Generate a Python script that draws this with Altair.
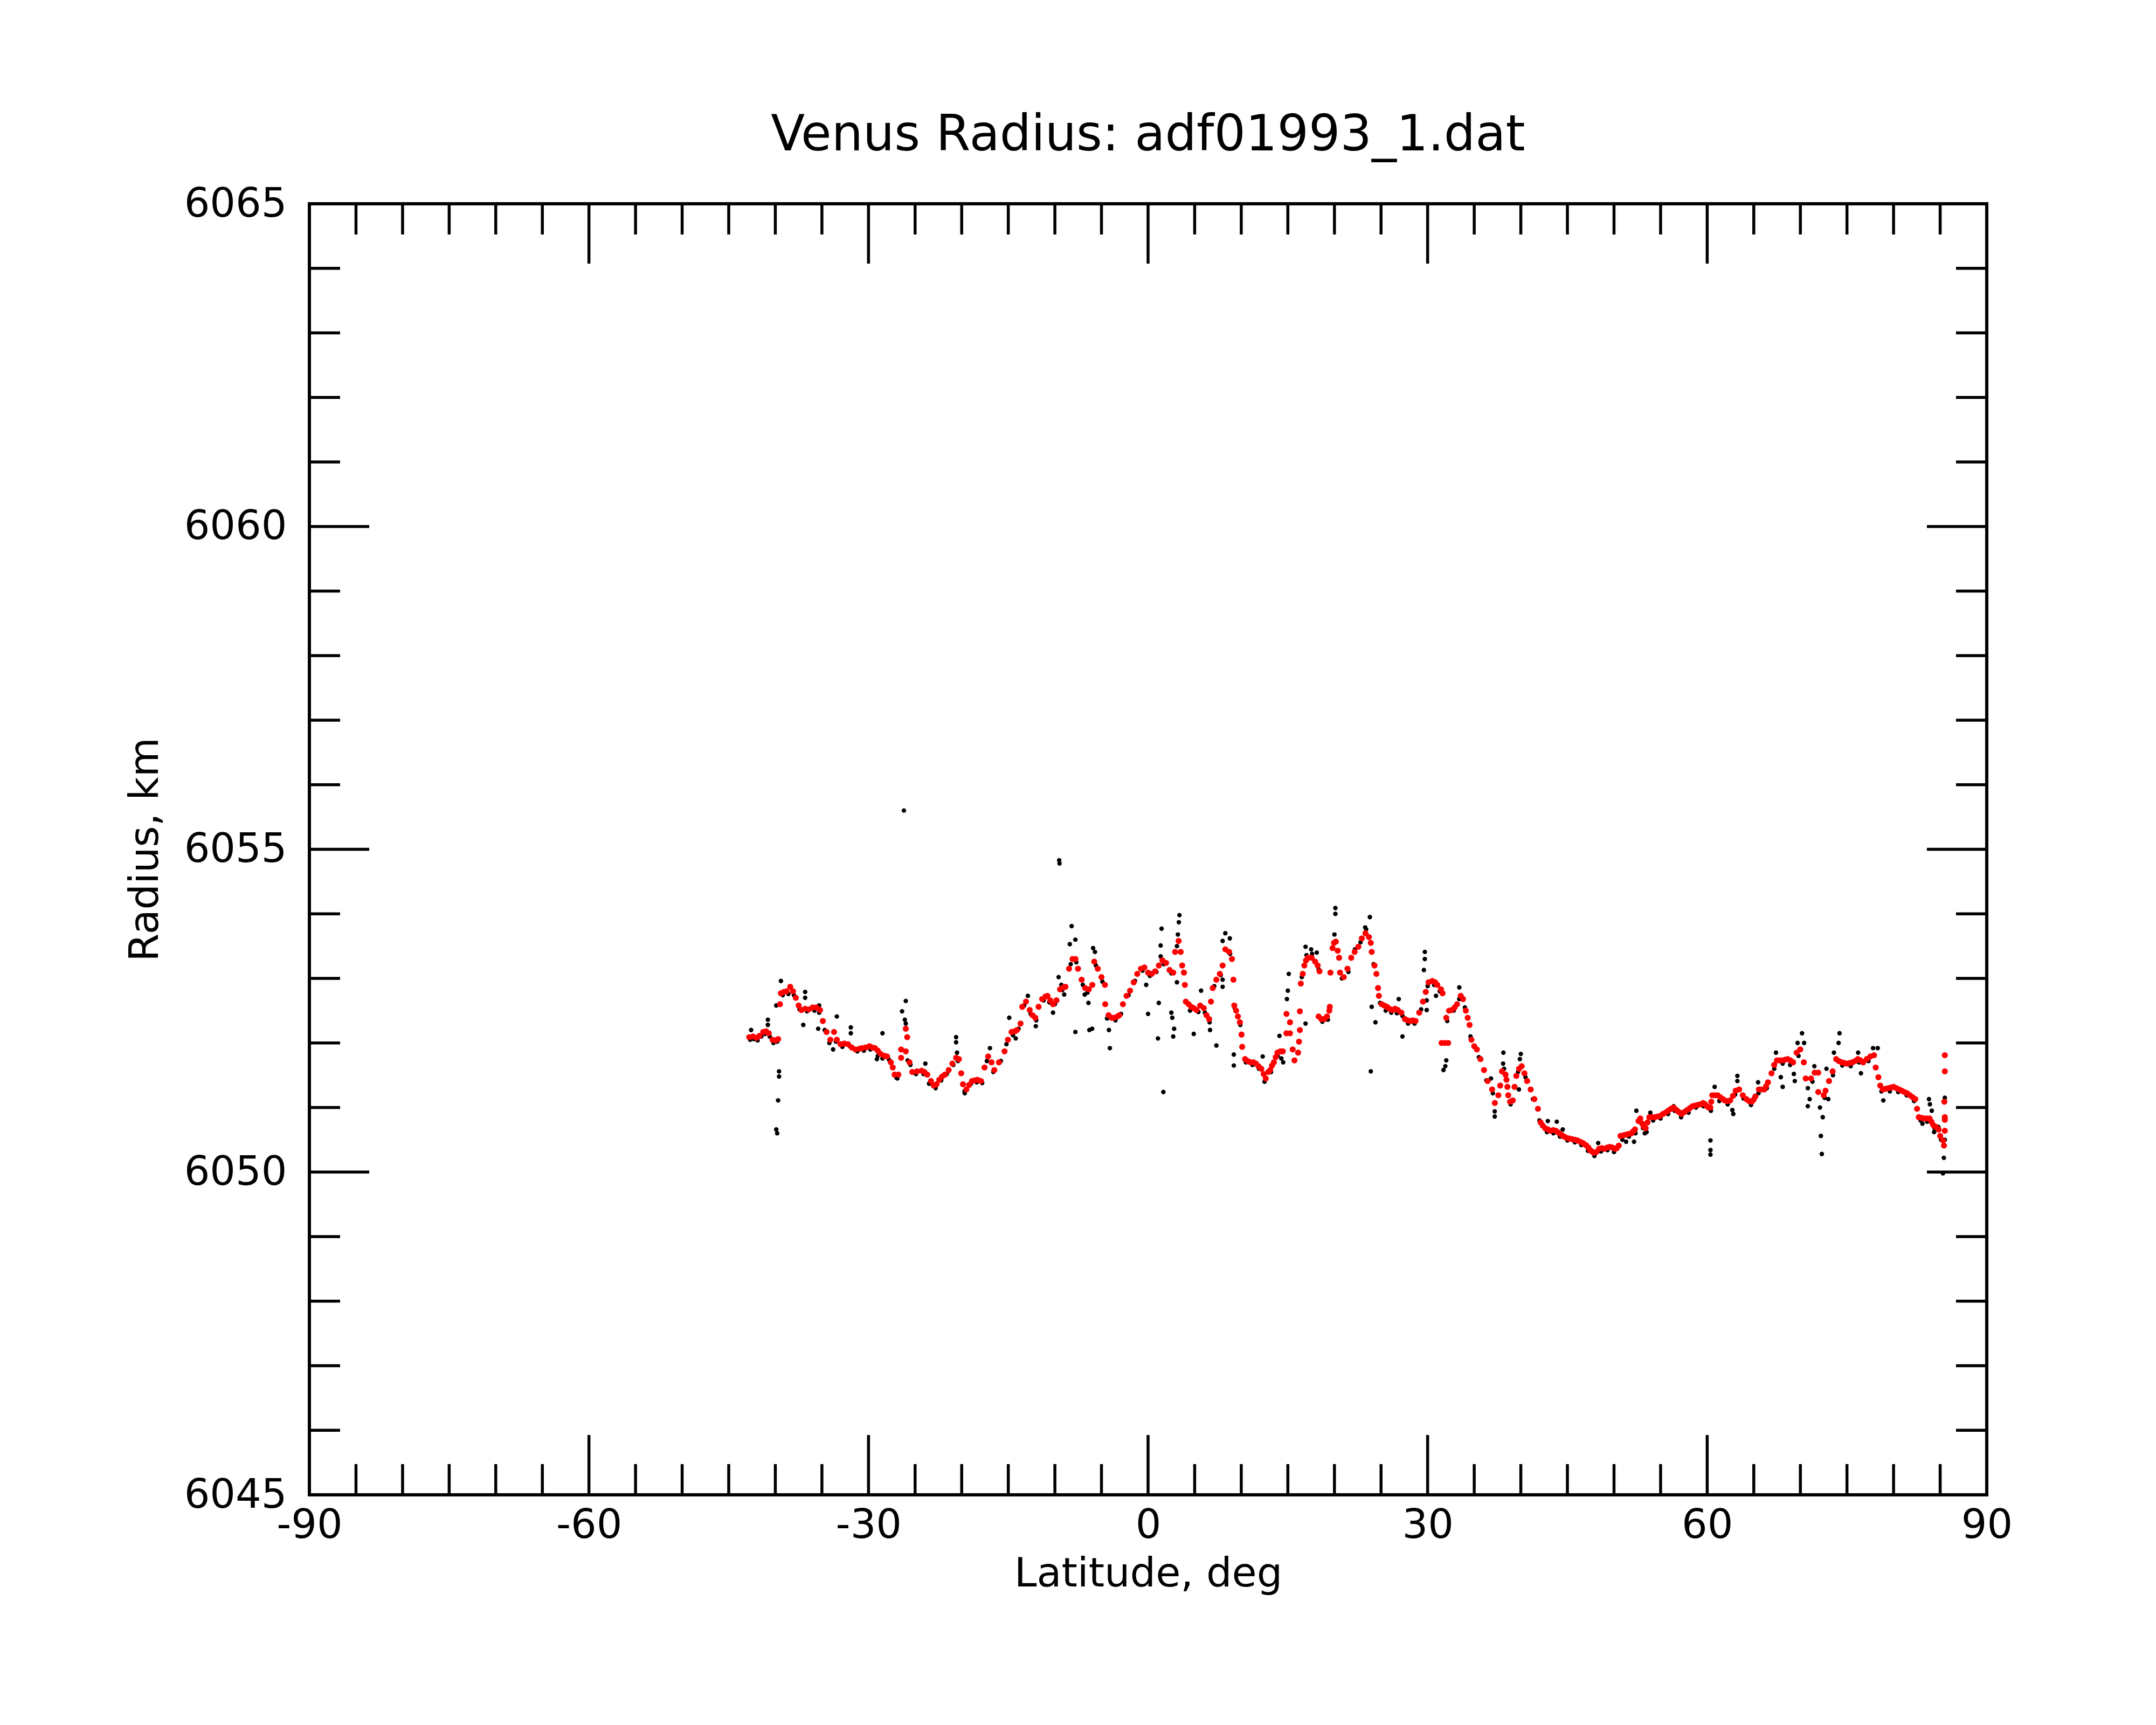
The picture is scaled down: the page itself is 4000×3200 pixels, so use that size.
import altair as alt
import pandas as pd

TITLE = "Venus Radius: adf01993_1.dat"
X_TITLE = "Latitude, deg"
Y_TITLE = "Radius, km"

x_labels = [-90, -60, -30, 0, 30, 60, 90]
y_labels = [6045, 6050, 6055, 6060, 6065]
x_minor = [-85, -80, -75, -70, -65, -55, -50, -45, -40, -35, -25, -20, -15, -10, -5,
           5, 10, 15, 20, 25, 35, 40, 45, 50, 55, 65, 70, 75, 80, 85]
x_major = [-60, -30, 0, 30, 60]
y_minor = [6046, 6047, 6048, 6049, 6051, 6052, 6053, 6054, 6056, 6057, 6058, 6059,
           6061, 6062, 6063, 6064]
y_major = [6050, 6055, 6060]

# ---- smoothed (red) profile: (latitude, radius)
red_south = [
    (-42.8, 6052.09), (-42.4, 6052.10), (-42.0, 6052.08), (-41.7, 6052.11), (-41.3, 6052.17),
    (-41.0, 6052.18), (-40.7, 6052.15), (-40.3, 6052.05), (-40.0, 6052.04), (-39.7, 6052.06),
    (-39.5, 6052.60), (-39.4, 6052.77), (-39.1, 6052.79), (-38.8, 6052.80), (-38.4, 6052.87),
    (-38.1, 6052.80), (-37.8, 6052.70), (-37.5, 6052.58), (-37.2, 6052.51), (-36.8, 6052.53),
    (-36.4, 6052.52), (-36.0, 6052.55), (-35.6, 6052.55), (-35.2, 6052.51), (-34.9, 6052.34),
    (-34.5, 6052.17), (-34.1, 6052.05), (-33.7, 6052.17), (-33.4, 6052.05), (-33.0, 6051.98),
    (-32.6, 6051.99), (-32.2, 6051.98), (-31.8, 6051.93), (-31.4, 6051.90), (-31.0, 6051.91),
    (-30.7, 6051.92), (-30.3, 6051.93), (-29.9, 6051.95), (-29.6, 6051.93), (-29.3, 6051.92),
    (-29.0, 6051.88), (-28.7, 6051.83), (-28.3, 6051.80), (-28.0, 6051.79), (-27.6, 6051.70),
    (-27.4, 6051.62), (-27.2, 6051.51), (-26.8, 6051.51), (-26.5, 6051.77), (-26.5, 6051.90),
    (-26.0, 6051.87), (-25.85, 6052.09), (-26.0, 6052.22), (-25.6, 6051.70), (-25.3, 6051.55),
    (-24.8, 6051.56), (-24.3, 6051.57), (-24.0, 6051.55), (-23.7, 6051.51), (-23.3, 6051.41),
    (-23.0, 6051.34), (-22.7, 6051.36), (-22.4, 6051.43), (-22.1, 6051.48), (-21.8, 6051.51),
    (-21.4, 6051.58), (-21.0, 6051.68), (-20.6, 6051.77), (-20.3, 6051.75), (-20.05, 6051.53),
    (-19.86, 6051.36), (-19.5, 6051.28), (-19.2, 6051.35), (-18.9, 6051.41), (-18.6, 6051.42),
    (-18.3, 6051.43),
]
red_equator = [
    (-17.93, 6051.41), (-17.55, 6051.62), (-17.16, 6051.79), (-16.8, 6051.70), (-16.5, 6051.58),
    (-16.0, 6051.70), (-15.4, 6051.87), (-15.04, 6052.05), (-14.65, 6052.17), (-14.3, 6052.18),
    (-14.07, 6052.20), (-13.69, 6052.30), (-13.5, 6052.56), (-13.1, 6052.64), (-12.7, 6052.51),
    (-12.4, 6052.43), (-12.1, 6052.39), (-11.75, 6052.56), (-11.37, 6052.68), (-11.0, 6052.72),
    (-10.8, 6052.73), (-10.5, 6052.66), (-10.2, 6052.60), (-9.83, 6052.66), (-9.45, 6052.83),
    (-9.1, 6052.86), (-8.87, 6052.87), (-8.48, 6053.15), (-8.1, 6053.30), (-7.8, 6053.30),
    (-7.52, 6053.15), (-7.13, 6052.98), (-6.75, 6052.85), (-6.36, 6052.83), (-5.98, 6052.90),
    (-5.78, 6053.26), (-5.4, 6053.15), (-5.0, 6053.02), (-4.63, 6052.90), (-4.6, 6052.60),
    (-4.24, 6052.43), (-3.9, 6052.39), (-3.66, 6052.39), (-3.3, 6052.41), (-3.08, 6052.43),
    (-2.7, 6052.60), (-2.31, 6052.73), (-1.93, 6052.81), (-1.54, 6052.94), (-1.16, 6053.07),
    (-0.77, 6053.15), (-0.39, 6053.17), (0.0, 6053.09), (0.39, 6053.07), (0.77, 6053.11),
    (1.16, 6053.20), (1.54, 6053.28), (1.93, 6053.24), (2.31, 6053.13), (2.7, 6053.09),
    (2.9, 6053.41), (3.28, 6053.58), (3.5, 6053.41), (3.66, 6053.20), (3.85, 6053.09),
    (3.95, 6052.90), (4.05, 6052.64), (4.35, 6052.60), (4.63, 6052.56), (4.9, 6052.54),
    (5.2, 6052.51), (5.59, 6052.58), (5.98, 6052.54), (6.27, 6052.43), (6.55, 6052.37),
    (6.75, 6052.64), (6.94, 6052.85), (7.33, 6052.98), (7.7, 6053.07), (8.0, 6053.20),
    (8.29, 6053.45),
]
red_north = [
    (8.7, 6053.41), (9.0, 6053.30), (9.16, 6052.98), (9.25, 6052.58), (9.45, 6052.50),
    (9.64, 6052.41), (9.85, 6052.32), (10.03, 6052.13), (10.1, 6051.94), (10.41, 6051.75),
    (10.7, 6051.72), (11.0, 6051.70), (11.3, 6051.70), (11.57, 6051.68), (11.85, 6051.64),
    (12.15, 6051.60), (12.4, 6051.52), (12.63, 6051.45), (12.9, 6051.55), (13.11, 6051.58),
    (13.3, 6051.65), (13.5, 6051.70), (13.7, 6051.78), (13.88, 6051.85), (14.2, 6051.87),
    (14.46, 6051.87), (14.85, 6052.45), (15.23, 6052.32), (14.85, 6052.15), (15.23, 6052.15),
    (15.52, 6051.90), (15.71, 6051.73), (16.1, 6051.85), (16.2, 6052.02), (16.29, 6052.20),
    (16.29, 6052.49), (16.39, 6052.92), (16.6, 6053.07), (16.77, 6053.20), (16.95, 6053.28),
    (17.16, 6053.32), (17.55, 6053.32), (17.93, 6053.26), (18.2, 6053.20), (18.4, 6053.11),
    (18.3, 6052.41), (18.6, 6052.37), (18.9, 6052.37), (19.2, 6052.41), (19.45, 6052.50),
    (19.5, 6052.56), (19.57, 6053.09), (19.8, 6053.47), (19.95, 6053.55), (20.15, 6053.57),
    (20.35, 6053.43), (20.5, 6053.32), (20.6, 6053.09), (21.0, 6053.02), (21.4, 6053.15),
    (21.8, 6053.32), (22.17, 6053.41), (22.56, 6053.49), (22.94, 6053.62), (23.33, 6053.70),
    (23.7, 6053.64), (23.9, 6053.55), (24.0, 6053.41), (24.3, 6053.20), (24.5, 6053.07),
    (24.68, 6052.85), (24.77, 6052.73), (25.06, 6052.60), (25.35, 6052.58), (25.64, 6052.56),
    (25.9, 6052.53), (26.2, 6052.51), (26.5, 6052.53), (26.8, 6052.51), (27.18, 6052.47),
    (27.57, 6052.37), (27.85, 6052.35), (28.15, 6052.34), (28.4, 6052.35), (28.7, 6052.34),
    (29.1, 6052.47), (29.5, 6052.64), (29.8, 6052.79), (30.1, 6052.94), (30.5, 6052.96),
    (30.8, 6052.94), (31.04, 6052.90), (31.43, 6052.83), (31.6, 6052.77), (31.5, 6052.00),
    (31.85, 6052.00), (32.2, 6052.00), (32.0, 6052.39), (32.3, 6052.50), (32.6, 6052.51),
    (32.9, 6052.55), (33.16, 6052.60), (33.55, 6052.73), (33.8, 6052.68), (34.1, 6052.50),
    (34.3, 6052.39), (34.5, 6052.28), (34.7, 6052.05), (35.0, 6051.95), (35.28, 6051.90),
]
red_polar = [
    (35.67, 6051.75), (36.05, 6051.58), (36.44, 6051.41), (36.92, 6051.28), (37.21, 6051.07),
    (37.59, 6051.19), (37.79, 6051.34), (37.98, 6051.56), (38.36, 6051.51), (38.46, 6051.43),
    (38.56, 6051.32), (38.65, 6051.19), (38.85, 6051.09), (39.14, 6051.11), (39.33, 6051.32),
    (39.52, 6051.49), (39.81, 6051.60), (40.1, 6051.64), (40.39, 6051.53), (40.68, 6051.41),
    (41.06, 6051.28), (41.45, 6051.13), (41.84, 6050.98), (42.12, 6050.77), (42.35, 6050.72),
    (42.61, 6050.68), (42.9, 6050.66), (43.18, 6050.64), (43.47, 6050.65), (43.76, 6050.64),
    (44.05, 6050.61), (44.34, 6050.58), (44.63, 6050.55), (44.92, 6050.53), (45.2, 6050.52),
    (45.5, 6050.51), (45.8, 6050.50), (46.08, 6050.49), (46.37, 6050.47), (46.66, 6050.45),
    (46.85, 6050.43), (47.04, 6050.41), (47.25, 6050.38), (47.43, 6050.34), (47.62, 6050.32),
    (47.81, 6050.30), (48.1, 6050.31), (48.39, 6050.36), (48.68, 6050.37), (48.97, 6050.36),
    (49.26, 6050.38), (49.55, 6050.39), (49.84, 6050.38), (50.13, 6050.36), (50.3, 6050.37),
    (50.51, 6050.41), (50.7, 6050.56), (51.0, 6050.57), (51.28, 6050.58), (51.57, 6050.59),
    (51.86, 6050.60), (52.05, 6050.63), (52.25, 6050.66), (52.63, 6050.79), (52.82, 6050.83),
    (53.02, 6050.75), (53.2, 6050.70), (53.4, 6050.68), (53.6, 6050.77), (53.79, 6050.85),
    (54.08, 6050.85), (54.37, 6050.85), (54.66, 6050.86), (54.95, 6050.87), (55.24, 6050.90),
    (55.52, 6050.92), (55.81, 6050.95), (56.1, 6050.98), (56.39, 6051.00), (56.63, 6050.97),
    (56.87, 6050.94), (57.05, 6050.92), (57.26, 6050.90), (57.55, 6050.93), (57.84, 6050.96),
    (58.13, 6050.99), (58.42, 6051.02), (58.71, 6051.03), (59.0, 6051.04), (59.28, 6051.05),
    (59.57, 6051.07), (59.77, 6051.05), (59.96, 6051.02), (60.15, 6051.00), (60.34, 6051.00),
    (60.44, 6051.09), (60.54, 6051.19), (60.83, 6051.19), (61.12, 6051.19), (61.4, 6051.16),
    (61.69, 6051.13), (61.89, 6051.11), (62.18, 6051.10), (62.47, 6051.11), (62.76, 6051.18),
    (63.05, 6051.26), (63.43, 6051.28), (63.82, 6051.19), (64.2, 6051.13), (64.5, 6051.10),
    (64.78, 6051.09), (64.98, 6051.12), (65.17, 6051.17), (65.55, 6051.28), (65.84, 6051.28),
    (66.13, 6051.28), (66.32, 6051.33), (66.52, 6051.39), (66.9, 6051.53), (67.19, 6051.66),
    (67.48, 6051.73), (67.77, 6051.73), (68.06, 6051.73), (68.35, 6051.74), (68.64, 6051.75),
    (68.93, 6051.73), (69.22, 6051.70), (69.6, 6051.85), (69.99, 6051.90), (70.37, 6051.70),
    (70.57, 6051.45), (71.14, 6051.45), (71.53, 6051.54), (71.92, 6051.54), (71.92, 6051.24),
    (72.5, 6051.19), (72.7, 6051.26), (73.07, 6051.41), (73.46, 6051.56), (73.84, 6051.75),
    (74.13, 6051.72), (74.42, 6051.70), (74.71, 6051.69), (75.0, 6051.68), (75.29, 6051.69),
    (75.58, 6051.70), (75.87, 6051.72), (76.16, 6051.75), (76.45, 6051.73), (76.74, 6051.70),
    (77.12, 6051.75), (77.5, 6051.79), (77.9, 6051.81), (78.08, 6051.62), (78.37, 6051.47),
    (78.57, 6051.34), (78.86, 6051.28), (79.14, 6051.29), (79.43, 6051.30), (79.72, 6051.31),
    (80.0, 6051.32), (80.3, 6051.30), (80.6, 6051.28), (80.88, 6051.26), (81.17, 6051.24),
    (81.46, 6051.22), (81.75, 6051.19), (82.04, 6051.16), (82.33, 6051.13), (82.52, 6050.98),
    (82.71, 6050.85), (83.0, 6050.84), (83.29, 6050.83), (83.58, 6050.83), (83.87, 6050.83),
    (84.06, 6050.78), (84.25, 6050.73), (84.54, 6050.70), (84.83, 6050.66), (85.0, 6050.56),
    (85.3, 6050.49), (85.41, 6050.41), (85.5, 6051.81), (85.5, 6051.56), (85.45, 6051.09),
    (85.5, 6050.85), (85.5, 6050.81), (85.5, 6050.64),
]

# ---- raw (black) measurements: (latitude, radius)
black_south = [
    (-42.7, 6052.05), (-42.3, 6052.06), (-41.9, 6052.04), (-41.5, 6052.10), (-41.1, 6052.14),
    (-40.6, 6052.10), (-40.2, 6052.00), (-39.8, 6052.02), (-39.2, 6052.74), (-38.6, 6052.76),
    (-38.0, 6052.74), (-37.4, 6052.52), (-36.6, 6052.49), (-35.8, 6052.50), (-35.3, 6052.47),
    (-34.7, 6052.20), (-34.2, 6052.00), (-33.5, 6052.02), (-32.8, 6051.94), (-32.0, 6051.95),
    (-31.2, 6051.87), (-30.5, 6051.88), (-29.8, 6051.90), (-29.0, 6051.80), (-28.5, 6051.76),
    (-27.8, 6051.74), (-27.0, 6051.46), (-25.5, 6051.66), (-24.9, 6051.52), (-24.1, 6051.52),
    (-23.5, 6051.37), (-22.8, 6051.30), (-22.2, 6051.42), (-21.6, 6051.52), (-20.9, 6051.66),
    (-20.4, 6051.72), (-19.7, 6051.25), (-19.0, 6051.37), (-18.4, 6051.39),
    (-42.6, 6052.20), (-40.8, 6052.36), (-40.8, 6052.28), (-39.4, 6052.96), (-39.9, 6052.58),
    (-39.6, 6051.56), (-39.6, 6051.48), (-39.7, 6051.11), (-39.9, 6050.66), (-39.8, 6050.60),
    (-36.8, 6052.79), (-36.8, 6052.70), (-37.0, 6052.28), (-35.4, 6052.22), (-35.3, 6052.58),
    (-33.8, 6051.90), (-33.4, 6052.41), (-31.9, 6052.24), (-31.9, 6052.15), (-28.5, 6052.15),
    (-29.1, 6051.75), (-26.2, 6055.60), (-26.0, 6052.65), (-26.4, 6052.49), (-26.1, 6052.36),
    (-26.0, 6052.30), (-26.9, 6051.45), (-25.8, 6051.73), (-20.6, 6052.09), (-20.6, 6052.01),
    (-20.5, 6051.85), (-19.67, 6051.22), (-23.9, 6051.68),
]
black_equator = [
    (-17.8, 6051.38), (-17.3, 6051.72), (-16.6, 6051.55), (-15.8, 6051.72), (-15.2, 6051.98),
    (-14.5, 6052.12), (-13.9, 6052.22), (-13.3, 6052.58), (-12.6, 6052.45), (-12.0, 6052.35),
    (-11.2, 6052.66), (-10.6, 6052.63), (-10.0, 6052.60), (-9.2, 6052.82), (-8.3, 6053.22),
    (-7.7, 6053.25), (-7.0, 6052.90), (-6.5, 6052.78), (-5.6, 6053.20), (-4.9, 6052.95),
    (-4.4, 6052.38), (-3.5, 6052.35), (-2.9, 6052.45), (-2.1, 6052.74), (-1.4, 6052.96),
    (-0.6, 6053.12), (0.2, 6053.04), (0.9, 6053.10), (1.7, 6053.22), (2.5, 6053.08),
    (3.1, 6053.50), (3.8, 6053.10), (4.5, 6052.50), (5.4, 6052.48), (6.1, 6052.47),
    (6.6, 6052.32), (7.1, 6052.88), (7.8, 6053.05),
    (-9.54, 6054.83), (-9.5, 6054.78), (-8.2, 6053.81), (-8.4, 6053.53), (-7.8, 6053.60),
    (-5.9, 6053.47), (-5.7, 6053.41), (-9.6, 6053.02), (-9.3, 6052.90), (-9.0, 6052.75),
    (-6.8, 6052.75), (-6.4, 6052.62), (-7.8, 6052.17), (-6.3, 6052.20), (-6.0, 6052.22),
    (-4.2, 6052.20), (-4.1, 6051.92), (-14.9, 6052.39), (-14.2, 6052.07), (-12.9, 6052.73),
    (-12.05, 6052.26), (-10.2, 6052.47), (-16.97, 6051.92), (3.37, 6053.98), (3.3, 6053.87),
    (3.2, 6053.68), (1.45, 6053.77), (1.35, 6053.51), (1.35, 6053.34), (3.1, 6052.94),
    (1.15, 6052.62), (0.0, 6052.45), (1.06, 6052.07), (1.64, 6051.24), (2.5, 6052.47),
    (2.6, 6052.39), (2.8, 6052.22), (2.7, 6052.10), (4.9, 6052.14), (5.69, 6052.81),
    (6.65, 6052.20), (7.33, 6051.96), (8.29, 6053.70), (8.0, 6053.58), (-0.2, 6052.90),
    (8.0, 6052.98), (8.0, 6052.87),
]
black_north = [
    (8.8, 6053.38), (9.3, 6052.54), (9.9, 6052.28), (10.5, 6051.70), (11.2, 6051.66),
    (11.9, 6051.60), (12.5, 6051.40), (13.2, 6051.55), (13.9, 6051.80), (16.5, 6053.02),
    (17.0, 6053.36), (17.6, 6053.38), (18.3, 6053.14), (18.7, 6052.33), (19.3, 6052.36),
    (20.8, 6053.00), (21.5, 6053.10), (22.2, 6053.45), (22.8, 6053.56), (23.4, 6053.76),
    (24.2, 6053.22), (24.9, 6052.62), (25.5, 6052.50), (26.1, 6052.47), (26.7, 6052.46),
    (27.3, 6052.42), (27.9, 6052.30), (28.6, 6052.30), (29.3, 6052.52), (30.0, 6052.88),
    (30.7, 6052.90), (31.3, 6052.80), (32.1, 6052.34), (32.8, 6052.50), (33.4, 6052.68),
    (34.0, 6052.55), (34.6, 6052.10),
    (20.1, 6054.09), (20.1, 6054.00), (23.8, 6053.95), (20.0, 6053.68), (15.1, 6053.07),
    (15.0, 6052.81), (14.9, 6052.68), (16.9, 6053.49), (17.5, 6053.45), (18.1, 6053.40),
    (16.9, 6052.30), (14.1, 6052.11), (14.5, 6051.70), (14.3, 6051.76), (12.3, 6051.79),
    (9.2, 6051.82), (9.2, 6051.65), (8.77, 6053.62), (24.0, 6052.56), (24.4, 6052.32),
    (23.9, 6051.56), (26.9, 6052.68), (27.3, 6052.10), (29.7, 6053.41), (29.7, 6053.30),
    (29.6, 6053.13), (29.9, 6052.66), (29.9, 6052.51), (30.9, 6052.73), (32.0, 6051.73),
    (31.9, 6051.64), (31.7, 6051.58), (33.4, 6052.86), (23.3, 6053.79),
]
black_polar = [
    (35.5, 6051.78), (36.3, 6051.42), (37.0, 6051.22), (38.9, 6051.05), (39.7, 6051.55),
    (40.5, 6051.47), (41.3, 6051.13), (42.0, 6050.80), (42.8, 6050.62), (43.5, 6050.60),
    (44.2, 6050.55), (45.0, 6050.49), (45.8, 6050.46), (46.5, 6050.42), (47.2, 6050.33),
    (47.9, 6050.25), (48.6, 6050.32), (49.3, 6050.34), (50.0, 6050.31), (50.9, 6050.50),
    (51.6, 6050.55), (52.3, 6050.60), (53.1, 6050.68), (53.5, 6050.62), (54.2, 6050.80),
    (55.0, 6050.83), (55.8, 6050.90), (56.5, 6050.95), (57.2, 6050.85), (58.0, 6050.92),
    (58.8, 6051.00), (59.6, 6051.02), (60.4, 6050.95), (61.3, 6051.10), (62.2, 6051.05),
    (63.0, 6051.20), (63.9, 6051.14), (64.7, 6051.04), (65.5, 6051.22), (66.4, 6051.30),
    (67.2, 6051.60), (68.1, 6051.68), (68.9, 6051.66), (69.8, 6051.80), (71.3, 6051.40),
    (72.6, 6051.15), (73.5, 6051.50), (74.5, 6051.65), (75.4, 6051.64), (76.3, 6051.70),
    (77.3, 6051.72), (78.7, 6051.25), (79.6, 6051.25), (80.5, 6051.24), (81.4, 6051.19),
    (82.2, 6051.10), (82.9, 6050.80), (83.6, 6050.78), (84.4, 6050.68), (85.1, 6050.50),
    (38.13, 6051.85), (38.1, 6051.68), (38.2, 6051.60), (40.0, 6051.83), (39.9, 6051.75),
    (37.2, 6050.94), (37.2, 6050.86), (36.8, 6051.45), (39.8, 6051.28), (42.9, 6050.79),
    (43.86, 6050.78), (44.5, 6050.66), (48.3, 6050.45), (52.4, 6050.95), (52.15, 6050.47),
    (51.3, 6050.47), (53.9, 6050.92), (53.3, 6050.60), (56.4, 6051.02), (60.35, 6050.49),
    (60.35, 6050.34), (60.35, 6050.27), (60.8, 6051.32), (63.24, 6051.49), (63.24, 6051.41),
    (62.7, 6050.96), (62.8, 6050.90), (65.46, 6051.39), (67.38, 6051.85), (67.9, 6051.47),
    (68.1, 6051.32), (70.18, 6052.15), (69.7, 6052.00), (70.4, 6052.00), (69.3, 6051.52),
    (69.4, 6051.41), (70.8, 6051.30), (71.0, 6051.13), (70.8, 6051.02), (71.5, 6051.64),
    (72.1, 6051.00), (72.4, 6050.85), (72.2, 6050.56), (72.3, 6050.28), (72.8, 6051.60),
    (73.0, 6051.13), (74.2, 6052.15), (74.1, 6052.00), (73.6, 6051.85), (76.2, 6051.85),
    (76.5, 6051.53), (77.8, 6051.92), (78.3, 6051.92), (78.9, 6051.11), (83.8, 6051.13),
    (83.9, 6051.05), (84.1, 6050.95), (84.35, 6050.62), (84.8, 6050.70), (85.5, 6051.15),
    (85.4, 6050.22), (85.3, 6049.98), (83.1, 6050.75), (85.5, 6050.50),
]

red = pd.DataFrame(red_south + red_equator + red_north + red_polar, columns=["lat", "r"])
black = pd.DataFrame(black_south + black_equator + black_north + black_polar, columns=["lat", "r"])

W, H = 3112, 2395
FONT = "DejaVu Sans"
MINOR, MAJOR = 57, 111
TW = 5.5

xscale = alt.Scale(domain=[-90, 90], nice=False, zero=False)
yscale = alt.Scale(domain=[6045, 6065], nice=False, zero=False)

x_axis = alt.Axis(
    values=x_labels, labelExpr="'' + datum.value", ticks=False, grid=False, domain=False,
    labelFont=FONT, labelFontSize=75, labelColor="black", labelPadding=20, labelLimit=0,
    labelFlush=False, labelOverlap=False, labelBaseline="top",
    title=X_TITLE, titleFont=FONT, titleFontSize=75, titleFontWeight="normal",
    titleColor="black", titleX=W / 2, titleY=169, titleAlign="center",
    titleBaseline="alphabetic",
)
y_axis = alt.Axis(
    values=y_labels, labelExpr="'' + datum.value", ticks=False, grid=False, domain=False,
    labelFont=FONT, labelFontSize=75, labelColor="black", labelPadding=42, labelLimit=0,
    labelFlush=False, labelOverlap=False, labelBaseline="middle",
    title=Y_TITLE, titleFont=FONT, titleFontSize=75, titleFontWeight="normal",
    titleColor="black", titleX=-282, titleY=H / 2, titleAngle=270, titleAlign="center",
    titleBaseline="alphabetic",
)

X = alt.X("lat:Q", scale=xscale, axis=x_axis)
Y = alt.Y("r:Q", scale=yscale, axis=y_axis)

black_pts = alt.Chart(black).mark_point(
    filled=True, shape="circle", size=70, color="black", opacity=1, strokeWidth=0
).encode(x=X, y=Y)

red_pts = alt.Chart(red).mark_point(
    filled=True, shape="circle", size=125, color="#ff0000", opacity=1, strokeWidth=0
).encode(x=X, y=Y)


def xticks(values, length):
    df = pd.DataFrame({"lat": values})
    bottom = alt.Chart(df).mark_rule(color="black", strokeWidth=TW).encode(
        x=X, y=alt.value(H), y2=alt.value(H - length),
    )
    top = alt.Chart(df).mark_rule(color="black", strokeWidth=TW).encode(
        x=X, y=alt.value(0), y2=alt.value(length),
    )
    return [bottom, top]


def yticks(values, length):
    df = pd.DataFrame({"r": values})
    left = alt.Chart(df).mark_rule(color="black", strokeWidth=TW).encode(
        y=Y, x=alt.value(0), x2=alt.value(length),
    )
    right = alt.Chart(df).mark_rule(color="black", strokeWidth=TW).encode(
        y=Y, x=alt.value(W), x2=alt.value(W - length),
    )
    return [left, right]


layers = [black_pts, red_pts]
layers += xticks(x_minor, MINOR) + xticks(x_major, MAJOR)
layers += yticks(y_minor, MINOR) + yticks(y_major, MAJOR)

chart = alt.layer(*layers).properties(
    width=W,
    height=H,
    background="white",
    title=alt.TitleParams(
        TITLE, font=FONT, fontSize=92, fontWeight="normal", color="black",
        anchor="middle", baseline="alphabetic", offset=8, dy=38,
    ),
    autosize=alt.AutoSizeParams(type="none"),
    padding={"left": 566, "top": 370, "right": 290, "bottom": 400},
).configure_view(
    stroke="black", strokeWidth=6
)

chart.save("out.html", embed_options={"renderer": "svg", "actions": False})
